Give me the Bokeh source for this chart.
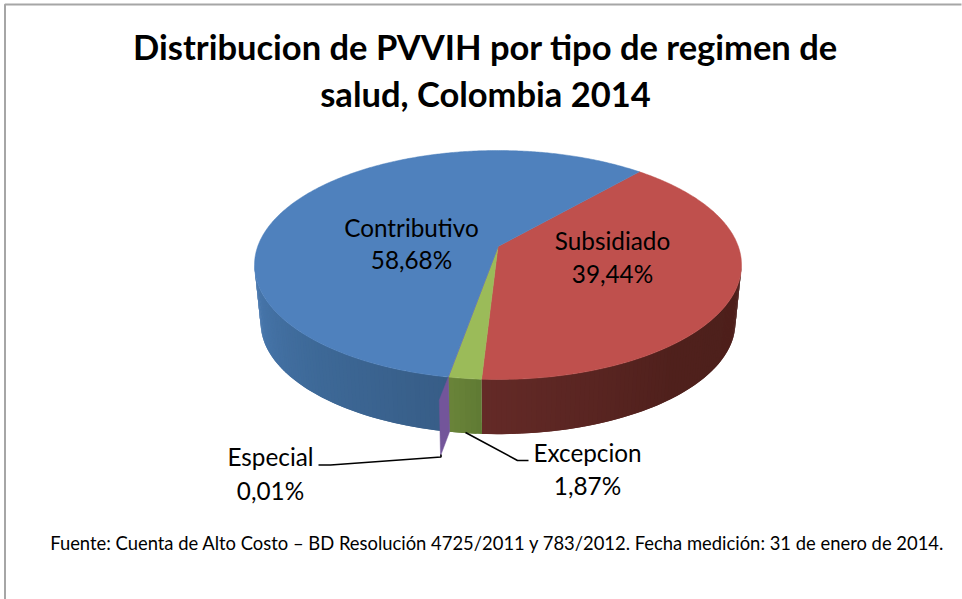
import numpy as np
from bokeh.embed import file_html
from bokeh.resources import INLINE
from bokeh.plotting import figure
from bokeh.core.properties import value as fontval

# --- data ---
categories = ["Subsidiado", "Excepcion", "Especial", "Contributivo"]
shares = [39.44, 1.87, 0.01, 58.68]
share_labels = ["39,44%", "1,87%", "0,01%", "58,68%"]
top_colors = ["#bf504d", "#9bbb59", "#8064a2", "#4f81bd"]
title_lines = ["Distribucion de PVVIH por tipo de regimen de", "salud, Colombia 2014"]
source_note = "Fuente: Cuenta de Alto Costo – BD Resolución 4725/2011 y 783/2012. Fecha medición: 31 de enero de 2014."

W, H = 962, 599
p = figure(width=W, height=H, x_range=(0, W), y_range=(H, 0), output_backend="svg",
           toolbar_location=None, min_border=0, outline_line_color=None,
           x_axis_type=None, y_axis_type=None, background_fill_color="white")
p.grid.visible = False

# --- projection of the pie disc ---
START = 41.3
CX, APEX_Y = 497.5, 246.0
A, B, K = 240.3, 111.5, 0.1615
BOT_DY, BOT_SCALE = 58.0, 0.975

def proj(deg, lower=False):
    t = np.radians(deg)
    u, v = np.sin(t), np.cos(t)
    x, y = A*u/(1+K*v), -B*v/(1+K*v)
    if lower:
        return CX + BOT_SCALE*x, APEX_Y + BOT_DY + BOT_SCALE*y
    return CX + x, APEX_Y + y

def lerp(c1, c2, f):
    a = [int(c1[i:i+2], 16) for i in (1, 3, 5)]
    b = [int(c2[i:i+2], 16) for i in (1, 3, 5)]
    return "#%02x%02x%02x" % tuple(int(round(a[i]+(b[i]-a[i])*f)) for i in range(3))

edges = START + np.cumsum([0] + shares) * 3.6
LEFT_SIL, RIGHT_SIL = 260.7, 99.3

# border
p.line([4.5, 4.5, 961], [599, 4, 4], line_color="#a6a6a6", line_width=2)

# side walls, as overlapping shaded strips
wall_stops = {
    "Subsidiado": [(99.3, "#4d1f1b"), (140, "#4f201c"), (183, "#642a27")],
    "Excepcion": [(183, "#5f7a33"), (190, "#6a8439")],
    "Contributivo": [(190, "#375d87"), (225, "#3e6a99"), (260.7, "#4a79b0")],
}
for name, a0, a1 in zip(categories, edges[:-1], edges[1:]):
    if name not in wall_stops:
        continue
    stops = wall_stops[name]
    lo, hi = (max(a0, RIGHT_SIL), a1) if name == "Subsidiado" else (a0, min(a1, LEFT_SIL))
    n = max(2, int((hi-lo)/1.0))
    ts = np.linspace(lo, hi, n+1)
    xs, ys, cs = [], [], []
    sa = [s[0] for s in stops]
    for i in range(n):
        end = ts[min(i+2, n)]
        x1, y1 = proj(ts[i]); x2, y2 = proj(end)
        x3, y3 = proj(end, True); x4, y4 = proj(ts[i], True)
        xs.append([x1, x2, x3, x4]); ys.append([y1, y2, y3, y4])
        m = (ts[i]+ts[i+1])/2
        j = max(min(np.searchsorted(sa, m, side="right")-1, len(stops)-2), 0)
        f = (m-sa[j])/(sa[j+1]-sa[j])
        cs.append(lerp(stops[j][1], stops[j+1][1], min(max(f, 0), 1)))
    p.patches(xs, ys, fill_color=cs, line_color=None)

# top faces
for name, col, a0, a1 in zip(categories, top_colors, edges[:-1], edges[1:]):
    ts = np.linspace(a0, a1, max(2, int(a1-a0)*2))
    x, y = proj(ts)
    p.patch(np.r_[CX, x], np.r_[APEX_Y, y], fill_color=col, line_color=col, line_width=0.5)

# the very thin Especial slice's wall, displaced below the pie
e = edges[categories.index("Especial")]
tx, ty = proj(e); bx, by = proj(e, True)
p.patch([tx, tx-9, bx-9, bx], [ty, ty+23, by+24, by], fill_color="#73559a", line_color="#73559a", line_width=0.5)

# leader lines
p.line([318, 330, 440.5, 440.5], [464.5, 464.5, 456.5, 454], line_color="black", line_width=1.6)
p.line([465, 517, 528], [432, 460, 460], line_color="black", line_width=1.6)

LBL = 24.3
def txt(x, y, s, size=LBL, style="normal"):
    p.text([x], [y], text=[s], text_font=fontval("Lato"), text_font_size=f"{size}px",
           text_font_style=style, text_align="center", text_baseline="middle", text_color="black")

idx = {c: i for i, c in enumerate(categories)}
for name, x, y1, y2 in [("Contributivo", 411, 226.5, 258.5), ("Subsidiado", 612, 239.5, 272.5),
                        ("Excepcion", 587, 451.5, 484.5), ("Especial", 270, 455.5, 489.5)]:
    txt(x, y1, name)
    txt(x, y2, share_labels[idx[name]])

txt(485, 46, title_lines[0], 34.5, "bold")
txt(485, 93, title_lines[1], 34.5, "bold")
txt(497, 542.6, source_note, 18.4)

open("out.html", "w").write(file_html(p, INLINE))
